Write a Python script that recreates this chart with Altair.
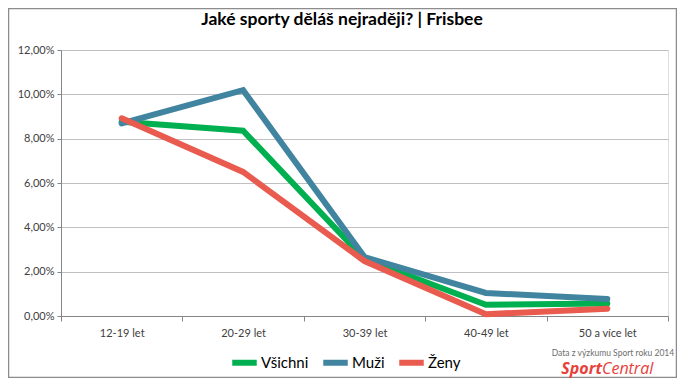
import altair as alt
import pandas as pd

categories = ["12-19 let", "20-29 let", "30-39 let", "40-49 let", "50 a více let"]
series_names = ["Všichni", "Muži", "Ženy"]
vsichni = [0.0876, 0.0836, 0.0257, 0.0051, 0.0056]
muzi = [0.0869, 0.1019, 0.0266, 0.0104, 0.0077]
zeny = [0.0892, 0.0650, 0.0248, 0.0008, 0.0033]
colors = ["#00B050", "#41849F", "#E85B4E"]
y_ticks = [0, 0.02, 0.04, 0.06, 0.08, 0.10, 0.12]
title_text = "Jaké sporty děláš nejraději? | Frisbee"
source_text = "Data z výzkumu Sport roku 2014"

rows = []
for name, vals in zip(series_names, [vsichni, muzi, zeny]):
    for c, v in zip(categories, vals):
        rows.append({"kat": c, "serie": name, "hodnota": v})
df = pd.DataFrame(rows)

FONT = "Lato"
W, H = 607, 266

color = alt.Color(
    "serie:N",
    scale=alt.Scale(domain=series_names, range=colors),
    sort=series_names,
    legend=alt.Legend(
        title=None, orient="none", legendX=168, legendY=297, direction="horizontal",
        symbolType="stroke", symbolStrokeWidth=6, symbolSize=600,
        labelFontSize=15, labelFont=FONT, labelColor="#000000",
        labelOffset=1, columnPadding=2, symbolOpacity=1,
    ),
)

x = alt.X(
    "kat:N", sort=categories, title=None,
    scale=alt.Scale(domain=categories, paddingInner=0, paddingOuter=0),
    axis=alt.Axis(
        labelAngle=0, labelFontSize=11, labelFont=FONT, labelColor="#404040",
        domainColor="#868686", tickColor="#868686", tickSize=5, tickBand="extent",
        labelPadding=6, grid=False,
    ),
)
y = alt.Y(
    "hodnota:Q", title=None,
    scale=alt.Scale(domain=[0, 0.12], nice=False),
    axis=alt.Axis(
        values=y_ticks, labelExpr="replace(format(datum.value, '.2%'), '.', ',')",
        labelFontSize=11, labelFont=FONT, labelColor="#404040",
        domainColor="#868686", tickColor="#868686", tickSize=4, labelPadding=3,
        gridColor="#C0C0C0", gridWidth=1,
    ),
)

base = alt.Chart(df)
layers = []
for name in series_names:
    layers.append(
        base.transform_filter(alt.datum.serie == name)
        .mark_line(strokeWidth=6, strokeCap="round")
        .encode(x=x, y=y, color=color)
    )

one = pd.DataFrame({"a": [0]})

frame = alt.Chart(one).mark_rect(
    fill=None, stroke="#8C8C8C", strokeWidth=1.5
).encode(x=alt.value(-52.5), x2=alt.value(615.5), y=alt.value(-41.5), y2=alt.value(327.5))

title = alt.Chart(pd.DataFrame({"t": [title_text]})).mark_text(
    font=FONT, fontSize=17.5, fontWeight="bold", color="#000000",
    align="center", baseline="alphabetic"
).encode(text="t:N", x=alt.value(281), y=alt.value(-25))

src = alt.Chart(pd.DataFrame({"t": [source_text]})).mark_text(
    font=FONT, fontSize=8.5, color="#6E6E6E", align="center", baseline="middle"
).encode(text="t:N", x=alt.value(552), y=alt.value(303))

sport = alt.Chart(pd.DataFrame({"t": ["Sport"]})).mark_text(
    font="Open Sans", fontSize=16, fontWeight="bold", fontStyle="italic", color="#E8413A",
    align="right", baseline="alphabetic"
).encode(text="t:N", x=alt.value(541), y=alt.value(324))

central = alt.Chart(pd.DataFrame({"t": ["Central"]})).mark_text(
    font="Open Sans", fontSize=16, fontStyle="italic", color="#E8413A",
    align="left", baseline="alphabetic"
).encode(text="t:N", x=alt.value(541), y=alt.value(324))

chart = alt.layer(*layers, frame, title, src, sport, central).properties(
    width=W, height=H,
    padding={"left": 53, "top": 42, "right": 9, "bottom": 62},
    autosize=alt.AutoSizeParams(type="none"),
).configure_view(stroke=None).configure(background="white")

chart.save("out.html", embed_options={"renderer": "svg", "actions": False})
